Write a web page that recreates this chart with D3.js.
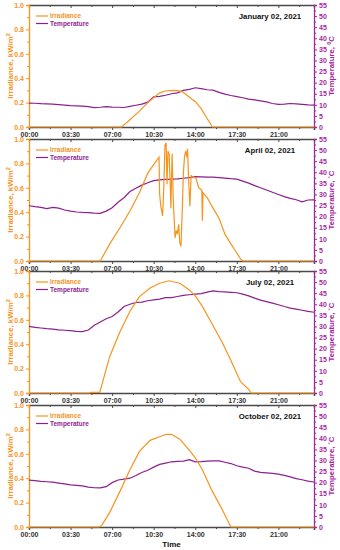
<!DOCTYPE html>
<html>
<head>
<meta charset="utf-8">
<script src="https://cdn.jsdelivr.net/npm/d3@7"></script>
<style>
  body { margin: 0; background: #fff; }
  svg { display: block; font-family: "Liberation Sans", Arial, sans-serif; font-weight: bold; }
</style>
</head>
<body>
<svg id="svg" width="340" height="550"></svg>
<script>
// ---- data ----
var dates = ['January 02, 2021', 'April 02, 2021', 'July 02, 2021', 'October 02, 2021'];
var timeTicks = [0, 3.5, 7, 10.5, 14, 17.5, 21];
var timeTickLabels = ['00:00', '03:30', '07:00', '10:30', '14:00', '17:30', '21:00'];
var irrTicks = [0, 0.2, 0.4, 0.6, 0.8, 1.0];
var tempTicks = [0, 5, 10, 15, 20, 25, 30, 35, 40, 45, 50, 55];

var tempHours = [0,0.5,1,1.5,2,2.5,3,3.5,4,4.5,5,5.5,6,6.5,7,7.5,8,8.5,9,9.5,10,10.5,11,11.5,12,
  12.5,13,13.5,14,14.5,15,15.5,16,16.5,17,17.5,18,18.5,19,19.5,20,20.5,21,21.5,22,22.5,23,23.5,24];

var janTemp = [10.8,10.7,10.5,10.4,10.3,10.1,9.9,9.6,9.5,9.4,9.2,8.7,8.9,9.2,9.0,8.9,8.8,9.3,9.8,10.3,11.2,13.6,13.8,14.3,15.0,
  15.4,16.5,17.0,17.7,17.3,16.8,16.6,15.6,14.8,14.2,13.7,13.2,12.6,12.2,11.8,11.3,10.6,10.2,10.3,10.6,10.4,10.2,10.0,9.9];
var aprTemp = [24.9,24.5,24.2,23.6,24.2,23.8,23.0,22.5,22.1,21.9,21.8,21.6,21.5,22.5,24.0,26.5,28.5,31.3,32.8,34.2,35.3,36.2,36.6,36.8,36.9,
  37.0,37.3,37.6,38.0,37.9,37.8,37.8,37.6,37.4,37.1,36.9,36.0,35.1,34.0,33.0,32.0,31.0,30.0,29.0,28.2,27.6,26.7,27.5,27.6];
var julTemp = [30.0,29.6,29.3,29.0,28.8,28.5,28.3,28.1,27.8,27.7,28.4,30.5,32.0,33.5,34.5,36.5,39.0,40.0,40.8,41.0,41.6,42.0,42.3,43.0,43.0,
  43.5,44.0,44.3,44.6,44.8,45.5,46.0,45.7,45.6,45.4,45.2,44.6,43.8,42.8,41.9,41.2,40.5,39.8,39.0,38.3,37.8,37.3,36.8,36.4];
var octTemp = [21.1,20.9,20.6,20.4,20.2,19.8,19.4,19.0,18.8,18.5,18.0,17.7,17.6,18.2,20.0,21.2,21.6,22.0,23.2,24.6,25.6,27.0,28.2,28.8,29.4,
  29.6,29.7,30.4,29.4,29.5,29.7,29.8,29.8,29.2,28.6,27.6,27.0,26.5,25.2,24.6,24.4,24.2,23.8,23.3,22.6,21.8,21.3,20.7,20.3];

var janIrrHours = [0, 7.8, 8.5, 9.3, 10, 10.5, 11, 11.5, 12, 12.5, 12.9, 13.3, 13.7, 14, 14.5, 15, 15.45, 24];
var janIrr      = [0, 0, 0.06, 0.13, 0.2, 0.24, 0.28, 0.295, 0.3, 0.298, 0.29, 0.26, 0.23, 0.21, 0.15, 0.07, 0, 0];

var aprIrrHours = [0, 6.0, 6.8, 7.65, 8.5, 9.3, 10.0, 10.5, 10.95, 11.0, 11.1, 11.25, 11.35, 11.45, 11.55, 11.62, 11.7, 11.8,
  11.9, 11.95, 12.05, 12.15, 12.3, 12.4, 12.5, 12.6, 12.7, 12.8, 12.9, 13.0, 13.1, 13.2, 13.3, 13.35, 13.45, 13.55, 13.65,
  13.8, 14.05, 14.3, 14.55, 14.6, 14.65, 15.0, 15.4, 16.0, 16.5, 17.0, 17.4, 17.8, 18.0, 24];
var aprIrr      = [0, 0, 0.14, 0.27, 0.41, 0.56, 0.72, 0.79, 0.85, 0.55, 0.45, 0.37, 0.6, 0.95, 0.97, 0.63, 0.9, 0.88,
  0.6, 0.43, 0.88, 0.5, 0.19, 0.25, 0.22, 0.3, 0.15, 0.12, 0.4, 0.72, 0.86, 0.9, 0.85, 0.92, 0.65, 0.45, 0.7,
  0.69, 0.68, 0.6, 0.58, 0.33, 0.56, 0.52, 0.45, 0.35, 0.22, 0.14, 0.08, 0.02, 0, 0];

var julIrrHours = [0, 5.1, 5.2, 5.95, 6.0, 6.8, 7.65, 8.5, 9.3, 10.2, 11.0, 11.8, 12.7, 13.5, 14.05, 14.6, 15.4, 16.3, 17.1, 17.8, 18.5, 18.7, 24];
var julIrr      = [0, 0, 0.005, 0.005, 0.02, 0.3, 0.5, 0.67, 0.79, 0.86, 0.9, 0.92, 0.9, 0.845, 0.79, 0.71, 0.57, 0.41, 0.245, 0.095, 0.03, 0, 0];

var octIrrHours = [0, 5.9, 6.1, 6.8, 7.65, 8.5, 9.3, 10.2, 11.0, 11.55, 12.0, 12.7, 13.5, 14.05, 14.6, 15.4, 16.3, 17.0, 24];
var octIrr      = [0, 0, 0.01, 0.12, 0.29, 0.47, 0.62, 0.71, 0.74, 0.76, 0.76, 0.72, 0.63, 0.56, 0.47, 0.3, 0.137, 0, 0];

var panels = [
  {date: dates[0], irrH: janIrrHours, irr: janIrr, temp: janTemp},
  {date: dates[1], irrH: aprIrrHours, irr: aprIrr, temp: aprTemp},
  {date: dates[2], irrH: julIrrHours, irr: julIrr, temp: julTemp},
  {date: dates[3], irrH: octIrrHours, irr: octIrr, temp: octTemp}
];

var orange = '#f7941d';
var purple = '#8c1f8f';
var magenta = '#a1279f';
var axisGray = '#4a4a4a';

var marginLeft = 29;
var plotW = 285;
var tops = [5, 139, 271, 405];
var plotH = 122;

var svg = d3.select('svg');

var x = d3.scaleLinear().domain([0, 24]).range([0, plotW]);

panels.forEach(function (p, i) {
  var g = svg.append('g').attr('transform', 'translate(' + marginLeft + ',' + tops[i] + ')');
  var yIrr = d3.scaleLinear().domain([0, 1]).range([plotH, 0]);
  var yTemp = d3.scaleLinear().domain([0, 55]).range([plotH, 0]);

  // minor ticks
  var minorX = timeTicks.map(function (t) { return t + 1.75; }).filter(function (t) { return t < 24; });
  g.append('g').attr('transform', 'translate(0,' + plotH + ')')
    .call(d3.axisBottom(x).tickValues(minorX).tickSize(2).tickFormat(''))
    .call(function (a) { a.select('.domain').remove(); a.selectAll('line').attr('stroke', axisGray); });
  g.append('g')
    .call(d3.axisBottom(x).tickValues(minorX).tickSize(2).tickFormat(''))
    .call(function (a) { a.select('.domain').remove(); a.selectAll('line').attr('stroke', axisGray); });

  // top axis, ticks inward
  g.append('g')
    .call(d3.axisBottom(x).tickValues(timeTicks).tickSize(3).tickFormat(''))
    .call(function (a) { a.select('.domain').attr('stroke', axisGray).attr('stroke-width', 1.3); a.selectAll('line').attr('stroke', axisGray); });

  // bottom axis
  var bx = g.append('g').attr('transform', 'translate(0,' + plotH + ')')
    .call(d3.axisBottom(x).tickValues(timeTicks).tickSize(3).tickPadding(2)
      .tickFormat(function (d, k) { return timeTickLabels[k]; }));
  bx.select('.domain').attr('stroke', axisGray).attr('stroke-width', 1.5);
  bx.selectAll('line').attr('stroke', axisGray);
  bx.selectAll('text').attr('fill', '#333').attr('font-size', 7).attr('font-weight', 'bold')
    .attr('font-family', '"Liberation Sans", Arial, sans-serif');

  // left axis (irradiance)
  var irrMinor = irrTicks.slice(0, -1).map(function (t) { return t + 0.1; });
  g.append('g')
    .call(d3.axisLeft(yIrr).tickValues(irrMinor).tickSize(2).tickFormat(''))
    .call(function (a) { a.select('.domain').remove(); a.selectAll('line').attr('stroke', orange); });
  var ly = g.append('g')
    .call(d3.axisLeft(yIrr).tickValues(irrTicks).tickSize(3).tickPadding(2).tickFormat(d3.format('.1f')));
  ly.select('.domain').attr('stroke', orange).attr('stroke-width', 1.3);
  ly.selectAll('line').attr('stroke', orange);
  ly.selectAll('text').attr('fill', orange).attr('font-size', 7).attr('font-weight', 'bold')
    .attr('font-family', '"Liberation Sans", Arial, sans-serif');

  // right axis (temperature)
  var tempMinor = tempTicks.slice(0, -1).map(function (t) { return t + 2.5; });
  g.append('g').attr('transform', 'translate(' + plotW + ',0)')
    .call(d3.axisRight(yTemp).tickValues(tempMinor).tickSize(2).tickFormat(''))
    .call(function (a) { a.select('.domain').remove(); a.selectAll('line').attr('stroke', magenta); });
  var ry = g.append('g').attr('transform', 'translate(' + plotW + ',0)')
    .call(d3.axisRight(yTemp).tickValues(tempTicks).tickSize(3).tickPadding(2));
  ry.select('.domain').attr('stroke', magenta).attr('stroke-width', 1.3);
  ry.selectAll('line').attr('stroke', magenta);
  ry.selectAll('text').attr('fill', magenta).attr('font-size', 7).attr('font-weight', 'bold')
    .attr('font-family', '"Liberation Sans", Arial, sans-serif');

  // lines
  var irrLine = d3.line()
    .x(function (d, k) { return x(p.irrH[k]); })
    .y(function (d) { return yIrr(d); });
  var tempLine = d3.line()
    .x(function (d, k) { return x(tempHours[k]); })
    .y(function (d) { return yTemp(d); });

  g.append('path').datum(p.temp).attr('d', tempLine)
    .attr('fill', 'none').attr('stroke', purple).attr('stroke-width', 1.2);
  g.append('path').datum(p.irr).attr('d', irrLine)
    .attr('fill', 'none').attr('stroke', orange).attr('stroke-width', 1.2);

  // legend
  var leg = [{name: 'Irradiance', c: orange}, {name: 'Temperature', c: purple}];
  leg.forEach(function (l, k) {
    var yy = 11 + k * 7.5;
    g.append('line').attr('x1', 7).attr('x2', 19).attr('y1', yy).attr('y2', yy)
      .attr('stroke', l.c).attr('stroke-width', 1.2);
    g.append('text').attr('x', 21).attr('y', yy + 2.3).text(l.name)
      .attr('fill', l.c).attr('font-size', 6.5);
  });

  // date title
  g.append('text').attr('x', 241).attr('y', 14).attr('text-anchor', 'middle')
    .attr('font-size', 7.8).attr('fill', '#111').text(p.date);

  // axis titles
  var lt = g.append('text').attr('transform', 'translate(-16,' + (plotH / 2) + ') rotate(-90)')
    .attr('text-anchor', 'middle').attr('fill', orange).attr('font-size', 7.8);
  lt.append('tspan').text('Irradiance, kW/m');
  lt.append('tspan').attr('dy', -3).attr('font-size', 5.5).text('2');

  var rt = g.append('text').attr('transform', 'translate(' + (plotW + 20) + ',' + (plotH / 2) + ') rotate(-90)')
    .attr('text-anchor', 'middle').attr('fill', magenta).attr('font-size', 7.8);
  rt.append('tspan').text('Temperature, ');
  rt.append('tspan').attr('dy', i === 0 ? -3 : -2).attr('font-size', 5.5).text(i === 0 ? '0' : '\u00b0');
  rt.append('tspan').attr('dy', i === 0 ? 3 : 2).text('C');
});

svg.append('text').attr('x', marginLeft + plotW / 2).attr('y', 547).attr('text-anchor', 'middle')
  .attr('font-size', 8).attr('fill', '#111').text('Time');
</script>
</body>
</html>
